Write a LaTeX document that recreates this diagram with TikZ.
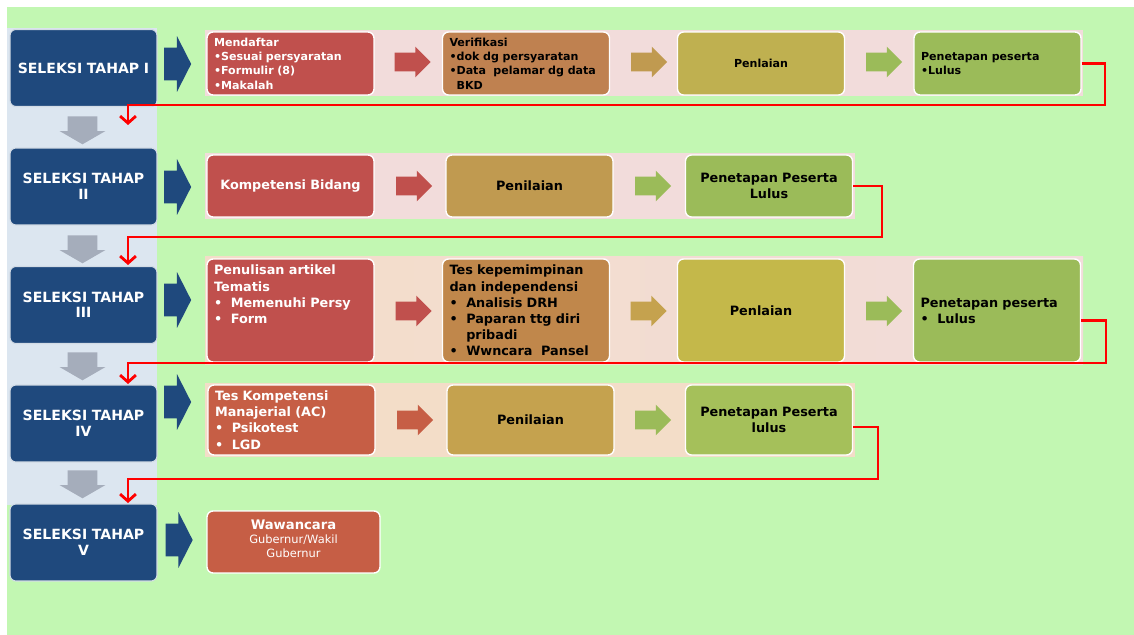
\documentclass[tikz,border=0pt]{standalone}
\usepackage{fontspec}
\setmainfont{DejaVu Sans}
\usetikzlibrary{shapes.arrows, positioning, calc, arrows.meta}

\definecolor{latar}{HTML}{C2F7B2}
\definecolor{kolom}{HTML}{DCE6F0}
\definecolor{biru}{HTML}{1F497D}
\definecolor{abu}{HTML}{A5ADBB}
\definecolor{pita}{HTML}{F2DCDB}
\definecolor{pitab}{HTML}{F3DDC8}
\definecolor{merah}{HTML}{C0504D}
\definecolor{jingga}{HTML}{C65E45}
\definecolor{coklat}{HTML}{BF8150}
\definecolor{coklatb}{HTML}{C0874B}
\definecolor{tan}{HTML}{C09A50}
\definecolor{tanb}{HTML}{C5A24E}
\definecolor{zaitun}{HTML}{BFB050}
\definecolor{zaitunb}{HTML}{C4B84A}
\definecolor{hijau}{HTML}{9BBB59}
\definecolor{hijaub}{HTML}{A5C05A}

\tikzset{
  tahap/.style={draw=white!80!biru, line width=0.6pt, fill=biru, rounded corners=0.12cm, minimum width=2.94cm, minimum height=1.54cm, text width=2.85cm, align=center, text=white, inner sep=0pt, font=\fontsize{8}{8.8}\selectfont\bfseries},
  kotak/.style={draw=white, line width=0.8pt, rounded corners=0.12cm, minimum width=3.34cm, text width=3.06cm, inner sep=0pt, font=\fontsize{7.3}{9.2}\selectfont\bfseries},
  kecil/.style={font=\fontsize{6.3}{8.2}\selectfont\bfseries},
  panah/.style={single arrow, single arrow head extend=0.12cm, minimum height=0.72cm, inner xsep=0pt, inner ysep=0.18cm, text height=0pt, text depth=0pt, text width=0pt},
  maju/.style={single arrow, fill=biru, single arrow head extend=0.23cm, single arrow tip angle=126, minimum height=0.54cm, inner xsep=0pt, inner ysep=0.32cm, text height=0pt, text depth=0pt, text width=0pt},
  turun/.style={single arrow, fill=abu, rotate=-90, single arrow head extend=0.16cm, single arrow tip angle=120, minimum height=0.56cm, inner xsep=0pt, inner ysep=0.29cm, text height=0pt, text depth=0pt, text width=0pt},
  jalur/.style={draw=red, line width=1.6pt, -{Straight Barb[length=4pt,width=9pt]}}
}

\begin{document}
\begin{tikzpicture}[x=0.02cm,y=-0.02cm]
    \fill[white] (0,0) rectangle (1134,635);
    \fill[latar] (7,7) rectangle (1134,635);
    \fill[kolom] (7,28) rectangle (157,505);
    \fill[pita] (205,30) rectangle (1083,96);
    \fill[pita] (205,153) rectangle (855,219);
    \shade[left color=pitab, right color=pita] (205,257) rectangle (1083,364);
    \fill[pitab] (205,383) rectangle (855,457);

    \node[tahap] (s1) at (83.5,68) {SELEKSI TAHAP I};
    \node[tahap] (s2) at (83.5,186.5) {SELEKSI TAHAP\\II};
    \node[tahap] (s3) at (83.5,305) {SELEKSI TAHAP\\III};
    \node[tahap] (s4) at (83.5,423.5) {SELEKSI TAHAP\\IV};
    \node[tahap] (s5) at (83.5,542.5) {SELEKSI TAHAP\\V};

    \node[maju] (m1) at (173.5,64) {};
    \node[maju] (m2) at (173.5,187) {};
    \node[maju] (m3) at (173.5,300) {};
    \node[maju] (m4) at (173.5,402) {};
    \node[maju] (m5) at (175,540) {};

    \node[turun] (d1) at (82.5,126) {};
    \node[turun] (d2) at (82.5,245) {};
    \node[turun] (d3) at (82.5,362) {};
    \node[turun] (d4) at (82.5,480) {};

    \node[kotak, kecil, fill=merah, text=white, minimum height=1.26cm, align=left] (p11) at (290.5,63.5) {Mendaftar\\•Sesuai persyaratan\\•Formulir (8)\\•Makalah};
    \node[kotak, kecil, fill=coklat, minimum height=1.26cm, align=left] (p12) at (526,63.5) {Verifikasi\\•dok dg persyaratan\\•Data\ \ pelamar dg data\\\hphantom{•}BKD};
    \node[kotak, kecil, fill=zaitun, minimum height=1.26cm, align=center] (p13) at (761,63.5) {Penlaian};
    \node[kotak, kecil, fill=hijau, minimum height=1.26cm, align=left] (p14) at (997.5,63.5) {Penetapan peserta\\•Lulus};
    \node[panah, fill=merah] (a11) at (408,62) {};
    \node[panah, fill=tan] (a12) at (644.5,62) {};
    \node[panah, fill=hijau] (a13) at (879.5,62) {};

    \node[kotak, fill=merah, text=white, minimum height=1.24cm, align=center] (p21) at (290.5,186) {Kompetensi Bidang};
    \node[kotak, fill=tan, minimum height=1.24cm, align=center] (p22) at (529.5,186) {Penilaian};
    \node[kotak, fill=hijau, minimum height=1.24cm, align=center] (p23) at (769,186) {Penetapan Peserta\\Lulus};
    \node[panah, fill=merah] (a21) at (409.5,186) {};
    \node[panah, fill=hijau] (a22) at (648.5,186) {};

    \node[kotak, fill=merah, text=white, minimum height=2.06cm, align=left] (p31) at (290.5,310.5) {Penulisan artikel\\Tematis\\•\ \ Memenuhi Persy\\•\ \ Form\\\mbox{}\\\mbox{}};
    \node[kotak, fill=coklatb, minimum height=2.06cm, align=left] (p32) at (526,310.5) {Tes kepemimpinan\\dan independensi\\•\ \ Analisis DRH\\•\ \ Paparan ttg diri\\\hphantom{•\ \ }pribadi\\•\ \ Wwncara\ \ Pansel};
    \node[kotak, fill=zaitunb, minimum height=2.06cm, align=center] (p33) at (761,310.5) {Penlaian};
    \node[kotak, fill=hijau, minimum height=2.06cm, align=left] (p34) at (997,310.5) {Penetapan peserta\\•\ \ Lulus};
    \node[panah, fill=merah] (a31) at (409,311) {};
    \node[panah, fill=tanb] (a32) at (644,311) {};
    \node[panah, fill=hijau] (a33) at (879.5,311) {};

    \node[kotak, fill=jingga, text=white, minimum height=1.4cm, align=left] (p41) at (291.5,420) {Tes Kompetensi\\Manajerial (AC)\\•\ \ Psikotest\\•\ \ LGD};
    \node[kotak, fill=tanb, minimum height=1.4cm, align=center] (p42) at (530.5,420) {Penilaian};
    \node[kotak, fill=hijaub, minimum height=1.4cm, align=center] (p43) at (769,420) {Penetapan Peserta\\lulus};
    \node[panah, fill=jingga] (a41) at (410.5,420) {};
    \node[panah, fill=hijau] (a42) at (648.5,420) {};

    \node[kotak, fill=jingga, text=white, minimum width=3.46cm, minimum height=1.24cm, align=center, font=\fontsize{6.5}{8}\selectfont] (p51) at (293.5,542) {{\fontsize{7.5}{8}\selectfont\bfseries Wawancara}\\Gubernur/Wakil\\Gubernur\\[-4pt]\mbox{}};

    \coordinate (k1) at (1105,105);
    \coordinate (t1) at (128,125);
    \coordinate (k2) at (882,237);
    \coordinate (t2) at (128,265);
    \coordinate (k3) at (1106,363);
    \coordinate (t3) at (128,384);
    \coordinate (k4) at (878,479);
    \coordinate (t4) at (128,503);
    \draw[jalur] (p14.east) -| (k1) -| (t1);
    \draw[jalur] (p23.east) -| (k2) -| (t2);
    \draw[jalur] ([yshift=-0.2cm]p34.east) -| (k3) -| (t3);
    \draw[jalur] ([yshift=-0.14cm]p43.east) -| (k4) -| (t4);
\end{tikzpicture}
\end{document}
